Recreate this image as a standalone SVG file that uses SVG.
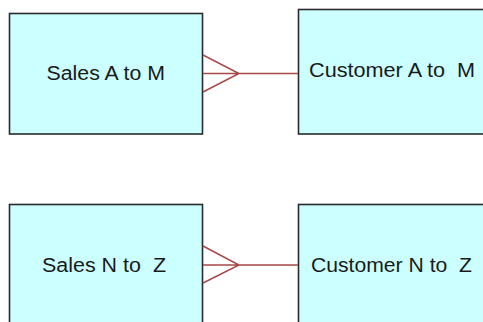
<svg xmlns="http://www.w3.org/2000/svg" width="483" height="322" viewBox="0 0 483 322">
<style>
.box{fill:#ccffff;stroke:#2a2a2a;stroke-width:1.6}
.lbl{font-family:"Liberation Sans",Arial,sans-serif;font-size:20px;fill:#1a1a1a;white-space:pre}
.conn{stroke:#a84848;stroke-width:1.5;fill:none}
</style>
<rect x="0" y="0" width="483" height="322" fill="#ffffff"/>
<g id="sales-a-m">
<rect class="box" x="9.5" y="13.5" width="193" height="120.5"/>
<text class="lbl" x="46.5" y="79.5" textLength="118.5" lengthAdjust="spacingAndGlyphs">Sales A to M</text>
</g>
<g id="customer-a-m">
<rect class="box" x="298.5" y="9.5" width="200" height="124.5"/>
<text class="lbl" x="309" y="77" textLength="166" lengthAdjust="spacingAndGlyphs" xml:space="preserve">Customer A to  M</text>
</g>
<g id="sales-n-z">
<rect class="box" x="9.5" y="204.5" width="193" height="130"/>
<text class="lbl" x="42" y="271.5" textLength="124" lengthAdjust="spacingAndGlyphs" xml:space="preserve">Sales N to  Z</text>
</g>
<g id="customer-n-z">
<rect class="box" x="298.5" y="204.5" width="200" height="130"/>
<text class="lbl" x="311" y="271.5" textLength="161" lengthAdjust="spacingAndGlyphs" xml:space="preserve">Customer N to  Z</text>
</g>
<g id="connectors">
<path class="conn" d="M203,55 L239,73.5 L203,92 M203,73.5 L298,73.5"/>
<path class="conn" d="M203,246 L239,265 L203,283 M203,265 L298,265"/>
</g>
</svg>
